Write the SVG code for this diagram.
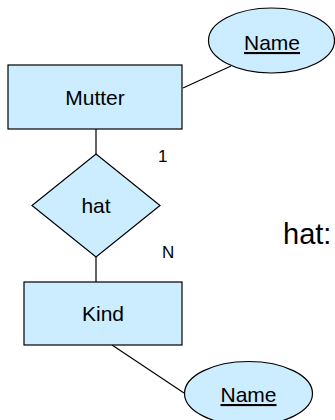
<svg xmlns="http://www.w3.org/2000/svg" width="335" height="420" viewBox="0 0 335 420">
<style>
.shape{fill:#CCECFF;stroke:#000;stroke-width:1.2}
.conn{stroke:#000;stroke-width:1.2;fill:none}
.lbl{font-family:"Liberation Sans",Arial,sans-serif;font-size:21px;fill:#000;text-anchor:middle}
.key{text-decoration:underline}
.card{font-family:"Liberation Sans",Arial,sans-serif;font-size:17px;fill:#000}
</style>
<rect width="335" height="420" fill="#fff"/>
<g id="connectors">
<line class="conn" x1="183" y1="88" x2="231" y2="66"/>
<line class="conn" x1="96" y1="129" x2="96" y2="154"/>
<line class="conn" x1="96" y1="257" x2="96" y2="282"/>
<line class="conn" x1="112" y1="345" x2="184" y2="393"/>
</g>
<g id="mutter">
<rect class="shape" x="8" y="65" width="174" height="64"/>
<text class="lbl" x="95" y="105">Mutter</text>
</g>
<g id="name-mutter">
<ellipse class="shape" cx="271.5" cy="40.5" rx="63" ry="32.5"/>
<text class="lbl key" x="272" y="50">Name</text>
</g>
<g id="hat">
<polygon class="shape" points="96,154 160,205.5 96,257 32,205.5"/>
<text class="lbl" x="96" y="213">hat</text>
</g>
<g id="kind">
<rect class="shape" x="24" y="282" width="158" height="63"/>
<text class="lbl" x="103" y="321">Kind</text>
</g>
<g id="name-kind">
<ellipse class="shape" cx="248.5" cy="393.5" rx="64" ry="32"/>
<text class="lbl key" x="248.5" y="402">Name</text>
</g>
<g id="cardinalities">
<text class="card" x="158" y="162">1</text>
<text class="card" x="162" y="258">N</text>
</g>
<text x="283" y="244" font-family="Liberation Sans, Arial, sans-serif" font-size="29" fill="#000">hat:</text>
</svg>
